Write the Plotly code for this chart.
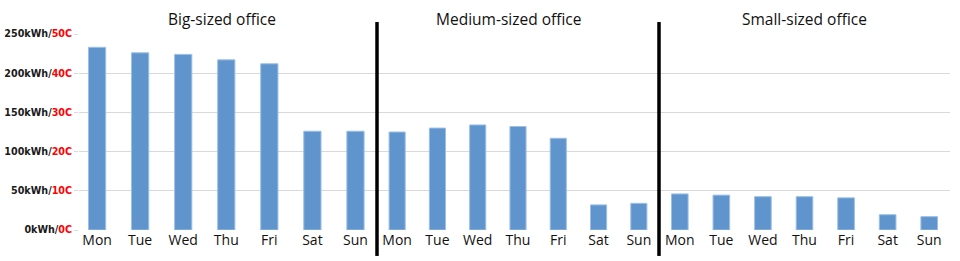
import plotly.graph_objects as go

days = ["Mon", "Tue", "Wed", "Thu", "Fri", "Sat", "Sun"]
big_office = [233, 226, 224, 217, 212, 126, 126]
medium_office = [125, 130, 134, 132, 117, 32, 34]
small_office = [46, 44.5, 42.5, 42.5, 41, 19.5, 17]
section_titles = ["Big-sized office", "Medium-sized office", "Small-sized office"]
kwh_ticks = [0, 50, 100, 150, 200, 250]
temp_ticks = [0, 10, 20, 30, 40, 50]

bar_color = "#5F95CC"
edge_color = "#9CBFE6"

fig = go.Figure()
series = [big_office, medium_office, small_office]
axes = ["x", "x2", "x3"]
for vals, ax in zip(series, axes):
    fig.add_trace(go.Bar(
        x=days, y=vals, xaxis=ax, yaxis="y",
        marker=dict(color=bar_color, line=dict(color=edge_color, width=1)),
        showlegend=False, hoverinfo="x+y",
    ))

W, H = 960, 261
l, r, t, b = 79, 10, 33.5, 31
pw = W - l - r
ph = H - t - b

def px_x(p):
    return (p - l) / pw

def px_y(p):
    return (H - b - p) / ph

d1 = px_x(377)
d2 = px_x(659)

tick_text = [
    f"<b>{k}kWh/<span style='color:#FF0000'>{c}C</span></b>"
    for k, c in zip(kwh_ticks, temp_ticks)
]

xcommon = dict(
    type="category", showgrid=False, zeroline=False, showline=False,
    ticks="", tickfont=dict(family="Open Sans", size=14, color="#111111"),
    anchor="y", fixedrange=True, automargin=False,
)
fig.update_layout(
    width=W, height=H,
    margin=dict(l=l, r=r, t=t, b=b, pad=0),
    plot_bgcolor="white", paper_bgcolor="white",
    bargap=0.6,
    xaxis=dict(domain=[0, d1], range=[-0.42, 6.5], **xcommon),
    xaxis2=dict(domain=[d1, d2], range=[-0.5, 6.5], **xcommon),
    xaxis3=dict(domain=[d2, 1], range=[-0.5, 6.5], **xcommon),
    yaxis=dict(
        range=[0, 250], tickvals=kwh_ticks, ticktext=tick_text,
        showgrid=True, gridcolor="#D9D9D9", gridwidth=1,
        zeroline=True, zerolinecolor="white", zerolinewidth=1,
        ticks="outside", ticklen=4, tickcolor="#D9D9D9",
        tickfont=dict(family="DejaVu Sans", size=9.6, color="#1a1a1a"),
        showline=False, fixedrange=True, automargin=False,
    ),
)

for xp in [d1, d2]:
    fig.add_shape(type="line", xref="paper", yref="paper",
                  x0=xp, x1=xp, y0=px_y(256), y1=px_y(21.5),
                  line=dict(color="black", width=3.5))

for title, cx in zip(section_titles, [221.5, 508, 804]):
    fig.add_annotation(text=title, xref="paper", yref="paper",
                       x=px_x(cx), y=px_y(18.5), xanchor="center", yanchor="middle",
                       showarrow=False,
                       font=dict(family="Open Sans", size=15.5, color="#111111"))

fig.write_html("out.html")
